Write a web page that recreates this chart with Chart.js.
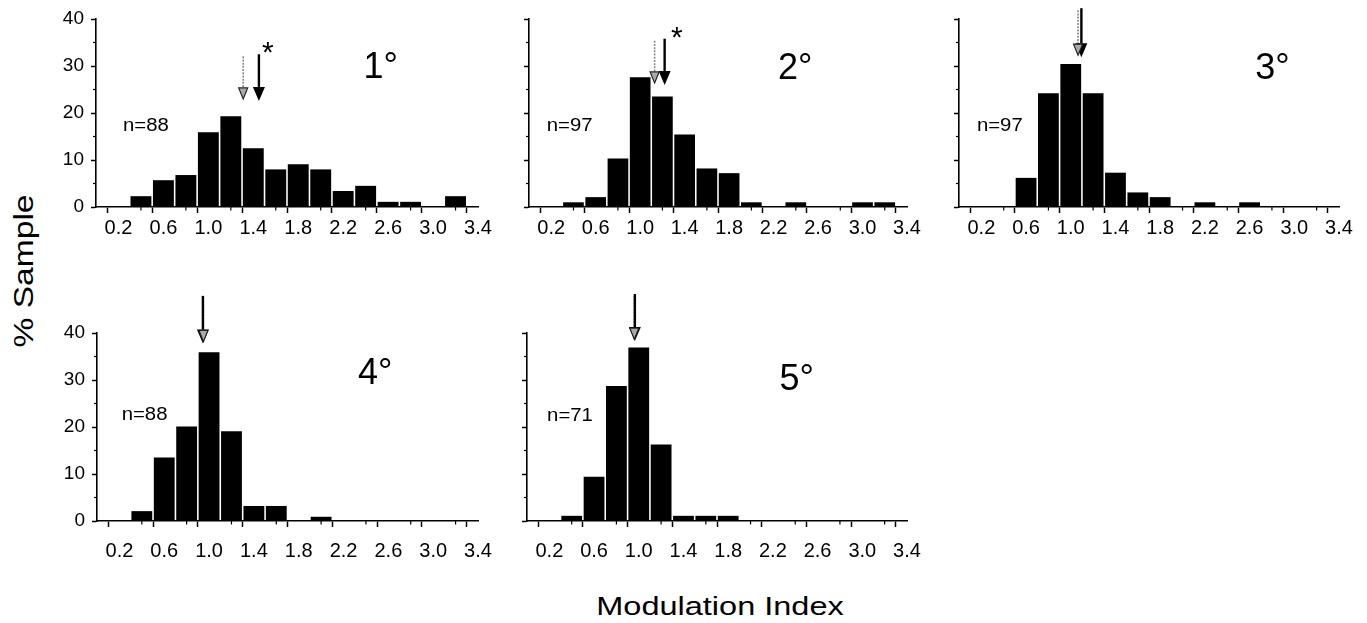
<!DOCTYPE html>
<html>
<head>
<meta charset="utf-8">
<script src="https://cdn.jsdelivr.net/npm/chart.js@4.4.0/dist/chart.umd.min.js"></script>
<style>
html,body{margin:0;padding:0;background:#fff;width:1367px;height:623px;overflow:hidden;position:relative;font-family:"Liberation Sans",Arial,sans-serif;color:#000;}
.pane{position:absolute;}
#ylab{position:absolute;left:24px;top:271px;transform:translate(-50%,-50%) rotate(-90deg) scaleX(1.2);font-size:28px;white-space:nowrap;}
#xlab{position:absolute;left:720px;top:606px;transform:translate(-50%,-50%) scaleX(1.3);font-size:25px;white-space:nowrap;}
</style>
</head>
<body>
<div id="ylab">% Sample</div>
<div id="xlab">Modulation Index</div>
<canvas id="c0" class="pane"></canvas>
<canvas id="c1" class="pane"></canvas>
<canvas id="c2" class="pane"></canvas>
<canvas id="c3" class="pane"></canvas>
<canvas id="c4" class="pane"></canvas>
<script>
// ---------------- DATA ----------------
const binCenters = [0.4, 0.6, 0.8, 1.0, 1.2, 1.4, 1.6, 1.8, 2.0, 2.2, 2.4, 2.6, 2.8, 3.0, 3.2];
const pct1deg = [2.3, 5.7, 6.8, 15.9, 19.3, 12.5, 8.0, 9.1, 8.0, 3.4, 4.5, 1.1, 1.1, 0, 2.3];
const pct2deg = [1.0, 2.1, 10.3, 27.6, 23.5, 15.4, 8.2, 7.2, 1.0, 0, 1.0, 0, 0, 1.0, 1.0];
const pct3deg = [0, 6.2, 24.2, 30.4, 24.2, 7.3, 3.1, 2.1, 0, 1.0, 0, 1.0, 0, 0, 0];
const pct4deg = [2.1, 13.5, 20.1, 35.9, 19.1, 3.2, 3.2, 0, 0.9, 0, 0, 0, 0, 0, 0];
const pct5deg = [1.1, 9.4, 28.7, 36.9, 16.3, 1.1, 1.1, 1.1, 0, 0, 0, 0, 0, 0, 0];
const panelSeries = [pct1deg, pct2deg, pct3deg, pct4deg, pct5deg];
const panelLabels = ['1°', '2°', '3°', '4°', '5°'];
const sampleLabels = ['n=88', 'n=97', 'n=97', 'n=88', 'n=71'];
const meanGrey  = [1.31, 1.13, 1.065, 0.95, 0.96];
const meanBlack = [1.45, 1.22, 1.095, 0.945, 0.965];
const significant = [true, true, false, false, false];
const xTickValues = [0.2, 0.4, 0.6, 0.8, 1.0, 1.2, 1.4, 1.6, 1.8, 2.0, 2.2, 2.4, 2.6, 2.8, 3.0, 3.2, 3.4];
const yTickValues = [0, 5, 10, 15, 20, 25, 30, 35, 40];

// ---------------- LAYOUT / STYLE ----------------
const layout = [
  {left: 36,  top: 0,   width: 472, height: 252, padTop: 19, yLabels: true,  tickPad: 3},
  {left: 469, top: 0,   width: 468, height: 252, padTop: 19, yLabels: false, tickPad: 3},
  {left: 899, top: 0,   width: 470, height: 252, padTop: 19, yLabels: false, tickPad: 3},
  {left: 37,  top: 288, width: 471, height: 278, padTop: 45, yLabels: true,  tickPad: 12},
  {left: 467, top: 288, width: 470, height: 278, padTop: 45, yLabels: false, tickPad: 12}
];
// annotation placement in data units
const annot = [
  {lab: [2.38, 27.4], n: [0.24, 17.2], arrow: [32.5, 23.0], star: [1.53, 33.8]},
  {lab: [2.24, 27.2], n: [0.16, 17.2], arrow: [35.8, 26.4], star: [1.33, 37.0]},
  {lab: [2.65, 27.2], n: [0.16, 17.2], arrow: [42.3, 32.3], star: null},
  {lab: [2.33, 29.1], n: [0.22, 22.6], arrow: [47.9, 38.2], star: null},
  {lab: [2.26, 27.8], n: [0.18, 22.4], arrow: [48.3, 38.7], star: null}
];

Chart.defaults.font.family = '"Liberation Sans", Arial, sans-serif';
Chart.defaults.color = '#000';

function shaft(ctx, px, yTop, yEnd, grey) {
  ctx.save();
  ctx.beginPath();
  ctx.moveTo(px, yTop);
  ctx.lineTo(px, yEnd);
  if (grey) { ctx.strokeStyle = '#8a8a8a'; ctx.lineWidth = 1.6; ctx.setLineDash([2, 1.2]); }
  else { ctx.strokeStyle = '#000'; ctx.lineWidth = 2.4; }
  ctx.stroke();
  ctx.restore();
}
function head(ctx, px, yTip, grey) {
  const headH = grey ? 11 : 14, headW = grey ? 9 : 12;
  ctx.save();
  ctx.beginPath();
  ctx.moveTo(px - headW / 2, yTip - headH);
  ctx.lineTo(px + headW / 2, yTip - headH);
  ctx.lineTo(px, yTip);
  ctx.closePath();
  if (grey) { ctx.fillStyle = '#aaa'; ctx.fill(); ctx.strokeStyle = '#222'; ctx.lineWidth = 1.2; ctx.stroke(); }
  else { ctx.fillStyle = '#000'; ctx.fill(); }
  ctx.restore();
}

const annotPlugin = {
  id: 'annotPlugin',
  afterDraw(chart, args, opts) {
    const {ctx, scales: {x, y}} = chart;
    const i = opts.panel;
    const a = annot[i];
    ctx.save();
    // minor ticks
    ctx.strokeStyle = '#000';
    ctx.lineWidth = 1.2;
    xTickValues.forEach((v, k) => {
      if (k % 2 === 1) {
        const px = x.getPixelForValue(v);
        ctx.beginPath(); ctx.moveTo(px, y.bottom); ctx.lineTo(px, y.bottom + 3.5); ctx.stroke();
      }
    });
    yTickValues.forEach(v => {
      if (v % 10 !== 0) {
        const py = y.getPixelForValue(v);
        ctx.beginPath(); ctx.moveTo(x.left, py); ctx.lineTo(x.left - 3, py); ctx.stroke();
      }
    });
    // panel label
    ctx.fillStyle = '#000';
    ctx.font = '36px "Liberation Sans", Arial, sans-serif';
    ctx.textBaseline = 'alphabetic';
    ctx.textAlign = 'left';
    ctx.fillText(panelLabels[i], x.getPixelForValue(a.lab[0]), y.getPixelForValue(a.lab[1]));
    // n label
    ctx.save();
    ctx.font = '18px "Liberation Sans", Arial, sans-serif';
    ctx.textBaseline = 'middle';
    ctx.translate(x.getPixelForValue(a.n[0]), y.getPixelForValue(a.n[1]));
    ctx.scale(1.13, 1);
    ctx.fillText(sampleLabels[i], 0, 0);
    ctx.restore();
    // arrows (grey = one mean, black = other mean)
    const yTop = y.getPixelForValue(a.arrow[0]);
    const yTip = y.getPixelForValue(a.arrow[1]);
    const gx = x.getPixelForValue(meanGrey[i]);
    const bx = x.getPixelForValue(meanBlack[i]);
    shaft(ctx, gx, yTop + 2, yTip - 10, true);
    shaft(ctx, bx, yTop, yTip - 12, false);
    head(ctx, bx, yTip + 2, false);
    head(ctx, gx, yTip, true);
    if (significant[i] && a.star) {
      ctx.font = '30px "Liberation Sans", Arial, sans-serif';
      ctx.textAlign = 'center';
      ctx.textBaseline = 'middle';
      ctx.fillText('*', x.getPixelForValue(a.star[0]), y.getPixelForValue(a.star[1]) + 6);
    }
    ctx.restore();
  }
};

panelSeries.forEach((series, i) => {
  const L = layout[i];
  const cv = document.getElementById('c' + i);
  cv.style.left = L.left + 'px';
  cv.style.top = L.top + 'px';
  cv.width = L.width; cv.height = L.height;
  cv.style.width = L.width + 'px'; cv.style.height = L.height + 'px';
  new Chart(cv, {
    type: 'bar',
    data: {
      datasets: [{
        data: binCenters.map((c, k) => ({x: c, y: series[k]})),
        backgroundColor: '#000',
        borderWidth: 0,
        barPercentage: 0.93,
        categoryPercentage: 1.0
      }]
    },
    options: {
      responsive: false,
      animation: false,
      events: [],
      layout: {padding: {top: L.padTop, left: 0, right: 30, bottom: 0}},
      plugins: {legend: {display: false}, tooltip: {enabled: false}, annotPlugin: {panel: i}},
      scales: {
        x: {
          type: 'linear', min: 0, max: 3.4, offset: false,
          afterBuildTicks: s => { s.ticks = xTickValues.map(v => ({value: v})); },
          afterFit: s => { s.height = 45; },
          ticks: {
            autoSkip: false, maxRotation: 0, padding: L.tickPad,
            font: {size: 20},
            callback: (v, k) => (k % 2 === 0 ? Number(v).toFixed(1) : '')
          },
          grid: {
            drawOnChartArea: false, drawTicks: true, tickLength: 6,
            tickColor: c => (c.index % 2 === 0 ? '#000' : 'rgba(0,0,0,0)'), tickWidth: 1.5
          },
          border: {display: true, color: '#000', width: 1.6}
        },
        y: {
          type: 'linear', min: 0, max: 40,
          afterBuildTicks: s => { s.ticks = yTickValues.map(v => ({value: v})); },
          afterFit: s => { s.width = 60; },
          ticks: {
            autoSkip: false, padding: 7,
            font: {size: 19},
            callback: v => (L.yLabels && v % 10 === 0 ? String(v) : '')
          },
          grid: {
            drawOnChartArea: false, drawTicks: true, tickLength: 5,
            tickColor: c => (c.tick && c.tick.value % 10 === 0 ? '#000' : 'rgba(0,0,0,0)'), tickWidth: 1.5
          },
          border: {display: true, color: '#000', width: 1.6}
        }
      }
    },
    plugins: [annotPlugin]
  });
});
</script>
</body>
</html>
